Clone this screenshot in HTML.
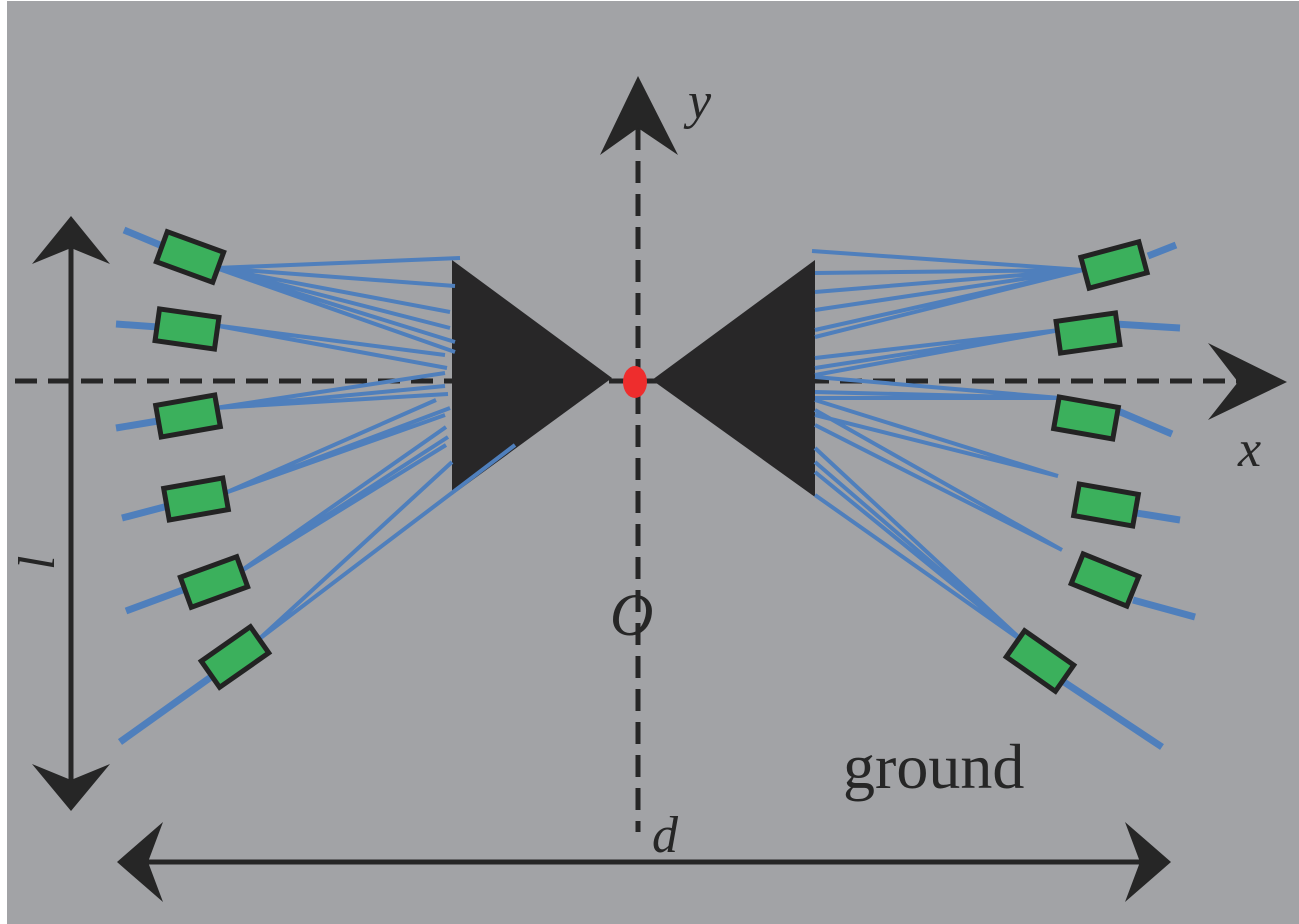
<!DOCTYPE html>
<html><head><meta charset="utf-8"><style>
html,body{margin:0;padding:0;background:#fff;}
svg{display:block;}
</style></head><body>
<svg width="1299" height="924" viewBox="0 0 1299 924" xmlns="http://www.w3.org/2000/svg">
<rect x="7" y="1" width="1292" height="923" fill="#a2a3a6"/>
<line x1="15" y1="381" x2="1245" y2="381" stroke="#262626" stroke-width="5" stroke-dasharray="22,11"/>
<line x1="638" y1="128" x2="638" y2="832" stroke="#262626" stroke-width="5" stroke-dasharray="22,11"/>
<polygon points="1287,382 1208,343 1238,382 1208,420" fill="#262626"/>
<polygon points="638,76 600,155 638,128 678,155" fill="#262626"/>
<line x1="71" y1="240" x2="71" y2="790" stroke="#262626" stroke-width="5"/>
<polygon points="71,216 32,264 71,248 110,264" fill="#262626"/>
<polygon points="71,811 32,764 71,780 110,764" fill="#262626"/>
<line x1="140" y1="862" x2="1150" y2="862" stroke="#262626" stroke-width="5"/>
<polygon points="117,862 163,822 148,862 163,902" fill="#262626"/>
<polygon points="1171,862 1125,822 1140,862 1125,902" fill="#262626"/>
<polygon points="452,260 612,378 452,495" fill="#282728"/>
<polygon points="815,260 652,380 815,497" fill="#282728"/>
<ellipse cx="635" cy="382" rx="12" ry="16" fill="#ee2d2d"/>
<g stroke="#4f7fbc" stroke-width="4" fill="none">
<path d="M216,268 L460,258 M216,268 L455,286 M216,268 L450,312 M216,268 L450,328 M216,268 L455,342 M216,268 L455,352
M213,325 L445,355 M213,325 L447,368
M215,408 L445,373 M215,408 L445,386 M215,408 L448,394
M225,493 L436,400 M225,493 L450,408 M225,493 L445,415
M235,575 L446,427 M235,575 L448,437 M235,575 L446,445
M258,640 L515,445 M258,640 L452,462"/>
</g>
<g stroke="#4f7fbc" stroke-width="4" fill="none">
<path d="M1083,270 L812,251 M1083,270 L815,273 M1083,270 L815,292 M1083,270 L815,310 M1083,270 L815,330 M1083,270 L815,337
M1060,330 L815,358 M1060,330 L815,368 M1060,330 L815,375
M1060,398 L815,377 M1060,398 L815,392 M1060,398 L815,398
M1058,476 L815,400 M1058,476 L815,415
M1062,550 L815,410 M1062,550 L815,425
M1025,643 L815,448 M1025,643 L815,462 M1025,643 L815,472 M1025,643 L815,495"/>
</g>
<g stroke="#4f7fbc" stroke-width="7" fill="none">
<path d="M124,230 L160,245 M116,324 L158,327 M116,428 L158,421 M122,518 L168,506 M126,611 L188,588 M120,742 L218,672
M1148,256 L1176,245 M1115,324 L1180,328 M1118,411 L1172,434 M1130,512 L1180,520 M1133,600 L1195,617 M1058,678 L1162,747"/>
</g>
<g fill="#3bb05c" stroke="#232323" stroke-width="5">
<rect x="-30" y="-16" width="60" height="32" transform="translate(190,257) rotate(20)"/>
<rect x="-30" y="-16" width="60" height="32" transform="translate(187,329) rotate(8)"/>
<rect x="-30" y="-16" width="60" height="32" transform="translate(188,416) rotate(-10)"/>
<rect x="-30" y="-16" width="60" height="32" transform="translate(196,499) rotate(-10)"/>
<rect x="-30" y="-16" width="60" height="32" transform="translate(214,582) rotate(-20)"/>
<rect x="-30" y="-16" width="60" height="32" transform="translate(235,657) rotate(-35)"/>
<rect x="-30" y="-16" width="60" height="32" transform="translate(1114,265) rotate(-15)"/>
<rect x="-30" y="-16" width="60" height="32" transform="translate(1088,333) rotate(-8)"/>
<rect x="-30" y="-16" width="60" height="32" transform="translate(1086,418) rotate(10)"/>
<rect x="-30" y="-16" width="60" height="32" transform="translate(1106,505) rotate(10)"/>
<rect x="-30" y="-16" width="60" height="32" transform="translate(1105,580) rotate(22)"/>
<rect x="-30" y="-16" width="60" height="32" transform="translate(1040,661) rotate(35)"/>
</g>
<g font-family="Liberation Serif, serif" fill="#262626">
<text x="688" y="118" font-size="52" font-style="italic">y</text>
<text x="1238" y="466" font-size="52" font-style="italic">x</text>
<text x="610" y="635" font-size="60" font-style="italic">O</text>
<text x="652" y="852" font-size="52" font-style="italic">d</text>
<text x="0" y="0" font-size="52" font-style="italic" transform="translate(54,570) rotate(-90)">l</text>
<text x="843" y="788" font-size="64">ground</text>
</g>
</svg>
</body></html>
